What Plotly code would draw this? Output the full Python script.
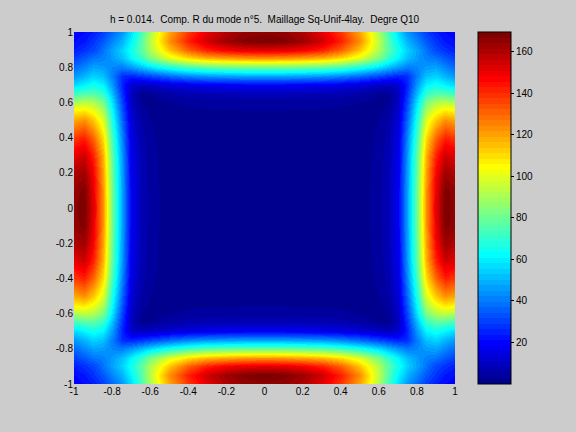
import plotly.graph_objects as go

# Quadrant coordinates (x >= 0, y >= 0); field has square (D4) symmetry
coords = [0, 0.1, 0.2, 0.3, 0.4, 0.5, 0.55, 0.6, 0.65, 0.7, 0.75, 0.8, 0.85, 0.9, 0.95, 1.0]

# Values: row i = larger coordinate coords[i], entry j = smaller coordinate coords[j]
tri_values = [
    [1.5],
    [1.5, 1.5],
    [1.5, 1.5, 1.5],
    [1.5, 1.5, 1.5, 1.5],
    [1.5, 1.5, 1.5, 1.5, 1.5],
    [2, 2, 2, 1.9, 1.8, 1.5],
    [2.5, 2.5, 2.4, 2.3, 2.1, 1.8, 1.5],
    [4, 4, 3.9, 3.7, 3.3, 2.6, 2.0, 1.2],
    [8, 8, 7.8, 7.4, 6.6, 5.2, 4.0, 2.5, 2.5],
    [18, 18, 17.5, 16.5, 15, 13, 11.5, 10, 9, 12],
    [47, 47, 46, 45, 42, 37, 34, 31, 28, 25, 27],
    [81, 81, 80, 78, 74, 67, 63, 58, 52, 46, 41, 42],
    [123, 122, 120, 117, 110, 99, 91, 82, 71, 61, 52, 46, 41],
    [152, 151, 148, 142, 131, 114, 103, 91, 77, 65, 55, 47, 39, 31],
    [169.5, 168, 163, 155, 142, 123, 109, 93, 76, 61, 50, 42, 34, 28, 23],
    [166, 165, 160, 151, 138, 119, 106, 90, 73, 57, 45, 37, 30, 24, 21, 20],
]

axis_ticks = [-1, -0.8, -0.6, -0.4, -0.2, 0, 0.2, 0.4, 0.6, 0.8, 1]
axis_labels = ["-1", "-0.8", "-0.6", "-0.4", "-0.2", "0", "0.2", "0.4", "0.6", "0.8", "1"]
cbar_ticks = [20, 40, 60, 80, 100, 120, 140, 160]
title_text = "h = 0.014.  Comp. R du mode n°5.  Maillage Sq-Unif-4lay.  Degre Q10"

# Mirror the quadrant into the full square
n = len(coords)
idx = list(range(n - 1, 0, -1)) + list(range(n))
full = [(-coords[i] if k < n - 1 else coords[i]) for k, i in enumerate(idx)]
Z = []
for a in idx:
    row = []
    for b in idx:
        i, j = max(a, b), min(a, b)
        row.append(tri_values[i][j])
    Z.append(row)

# MATLAB jet(64) colormap, as discrete steps
m = 64
nq = 16
u = [k / nq for k in range(1, nq + 1)] + [1.0] * (nq - 1) + [k / nq for k in range(nq, 0, -1)]
g = [nq // 2 + k for k in range(1, len(u) + 1)]
J = [[0.0, 0.0, 0.0] for _ in range(m)]
for k, gi in enumerate(g):
    ri, bi = gi + nq, gi - nq
    if ri <= m:
        J[ri - 1][0] = u[k]
    if gi <= m:
        J[gi - 1][1] = u[k]
    if bi > 0:
        J[bi - 1][2] = u[k]
cs = []
for k in range(m):
    c = "rgb(%d,%d,%d)" % tuple(round(255 * v) for v in J[k])
    cs.append([k / m, c])
    cs.append([(k + 1) / m, c])

font = dict(family="Liberation Sans, Arial, sans-serif", size=10, color="black")

fig = go.Figure(go.Heatmap(
    x=full, y=full, z=Z,
    zsmooth="best",
    colorscale=cs, zmin=0, zmax=169.5,
    colorbar=dict(
        x=(478 - 74) / 381, xanchor="left", xpad=0, ypad=0,
        y=0.5, yanchor="middle", len=1, lenmode="fraction",
        thickness=33, outlinecolor="black", outlinewidth=1,
        tickvals=cbar_ticks, ticks="outside", ticklen=3, tickcolor="black",
        tickfont=font,
    ),
))

fig.update_layout(
    width=576, height=432,
    margin=dict(l=74, r=121, t=32, b=48),
    paper_bgcolor="rgb(204,204,204)",
    plot_bgcolor="rgb(204,204,204)",
    font=font,
    title=dict(text=title_text, x=0.5, xref="paper", y=1 - 19 / 432, yref="container",
               xanchor="center", yanchor="middle", font=dict(size=10, color="black",
               family="Liberation Sans, Arial, sans-serif")),
    xaxis=dict(range=[-1, 1], tickvals=axis_ticks, ticktext=axis_labels, showgrid=False,
               zeroline=False, showline=False, ticks="", tickfont=font),
    yaxis=dict(range=[-1, 1], tickvals=axis_ticks, ticktext=axis_labels, showgrid=False,
               zeroline=False, showline=False, ticks="", tickfont=font),
)

fig.write_html("out.html")
